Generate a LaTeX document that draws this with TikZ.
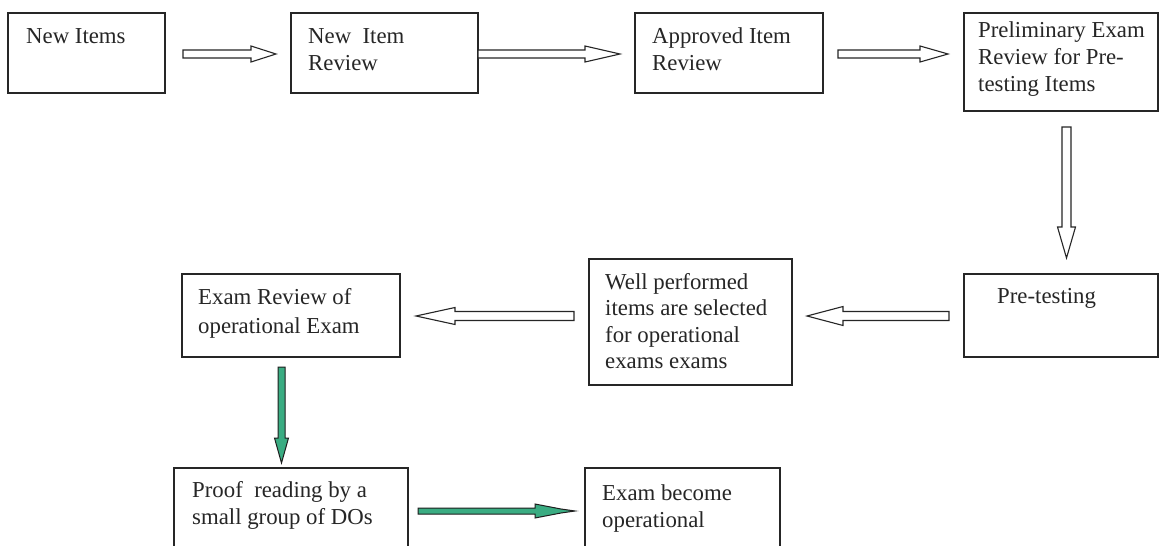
\documentclass[tikz,border=0pt]{standalone}
\usepackage{fontspec}
\setmainfont{Liberation Serif}
\usetikzlibrary{calc}
\definecolor{ink}{RGB}{38,38,38}
\definecolor{arrowgreen}{RGB}{58,172,130}
\tikzset{
  box/.style={draw=ink, line width=1.3pt, inner sep=0pt, outer sep=0pt, fill=white},
  txt/.style={anchor=base west, inner sep=0pt, text=ink, font=\fontsize{22.8}{27.5}\selectfont},
  hollow/.style={draw=ink, line width=1.1pt, fill=white, line join=miter},
  greenfill/.style={draw=ink!80!black, line width=1.0pt, fill=arrowgreen, line join=miter}
}
\newcommand\lines[1]{\begin{tabular}[t]{@{}l@{}}#1\end{tabular}}
% box: name, x1, y1, x2, y2 (pixel coordinates, y downwards)
\newcommand\boxat[5]{\node[box, minimum width={(#4)-(#2)}, minimum height={(#5)-(#3)}] (#1) at ({((#2)+(#4))/2},{((#3)+(#5))/2}) {};}
% block arrow: style, start, end, shaft half width, head half width, head length
\newcommand\blockarrow[6]{%
  \draw[#1] let \p1=(#2), \p2=(#3), \n1={veclen(\x2-\x1,\y2-\y1)}, \n2={atan2(\y2-\y1,\x2-\x1)} in
    [shift={(\p1)}, rotate=\n2]
    (0,#4) -- (\n1-#6,#4) -- (\n1-#6,#5) -- (\n1,0) -- (\n1-#6,-#5) -- (\n1-#6,-#4) -- (0,-#4) -- cycle;}
% spiky block arrow (last green one)
\newcommand\spikearrow[6]{%
  \draw[#1] let \p1=(#2), \p2=(#3), \n1={veclen(\x2-\x1,\y2-\y1)}, \n2={atan2(\y2-\y1,\x2-\x1)} in
    [shift={(\p1)}, rotate=\n2]
    (0,#4) -- (\n1-#6,#4) -- (\n1-#6,#5) -- (\n1-14,2) -- (\n1,0) -- (\n1-14,-2) -- (\n1-#6,-#5) -- (\n1-#6,-#4) -- (0,-#4) -- cycle;}
\begin{document}
\begin{tikzpicture}[x=1pt, y=-1pt]
\useasboundingbox (0,0) rectangle (1160,546);
\fill[white] (0,0) rectangle (1160,546);
\begin{scope}
\clip (0,0) rectangle (1160,546);
% boxes
\boxat{b1}{8}{13}{165}{93}
\boxat{b2}{291}{13}{478}{93}
\boxat{b3}{635}{13}{823}{93}
\boxat{b4}{964}{13}{1158}{111}
\boxat{b5}{964}{274}{1158}{357}
\boxat{b6}{589}{259}{792}{385}
\boxat{b7}{182}{274}{400}{357}
\boxat{b8}{174}{468}{408}{570}
\boxat{b9}{585}{468}{780}{570}
% texts
\node[txt] (t1) at ($(b1.north west)+(18,30)$) {New Items};
\node[txt] (t2) at ($(b2.north west)+(17,30)$) {\lines{New\ \ Item\\Review}};
\node[txt] (t3) at ($(b3.north west)+(17,30)$) {\lines{Approved Item\\Review}};
\node[txt] (t4) at ($(b4.north west)+(14,24)$) {\lines{Preliminary Exam\\Review for Pre-\\testing Items}};
\node[txt] (t5) at ($(b5.north west)+(33,29)$) {Pre-testing};
\node[txt] (t6) at ($(b6.north west)+(16,30)$) {\fontsize{22.8}{26.5}\selectfont\lines{Well performed\\items are selected\\for operational\\exams exams}};
\node[txt] (t7) at ($(b7.north west)+(16,30)$) {\fontsize{22.8}{29}\selectfont\lines{Exam Review of\\operational Exam}};
\node[txt] (t8) at ($(b8.north west)+(18,29)$) {\lines{Proof\ \ reading by a\\small group of DOs}};
\node[txt] (t9) at ($(b9.north west)+(17,32)$) {\lines{Exam become\\operational}};
% connector end points
\coordinate (a1s) at ($(b1.east)+(18,1)$);
\coordinate (a1e) at ($(b2.west)+(-15,1)$);
\coordinate (a2s) at ($(b2.east)+(0,1)$);
\coordinate (a2e) at ($(b3.west)+(-15,1)$);
\coordinate (a3s) at ($(b3.east)+(15,1)$);
\coordinate (a3e) at ($(b4.north west)+(-16,41)$);
\coordinate (a4s) at ($(b4.south)+(5.5,16)$);
\coordinate (a4e) at ($(b5.north)+(5.5,-16)$);
\coordinate (a5s) at ($(b5.west)+(-15,0.5)$);
\coordinate (a5e) at ($(b6.east|-a5s)+(15,0)$);
\coordinate (a6s) at ($(b6.west|-a5s)+(-15,0)$);
\coordinate (a6e) at ($(b7.east|-a5s)+(16,0)$);
\coordinate (a7s) at ($(b7.south)+(-9.5,10)$);
\coordinate (a7e) at ($(b8.north)+(-9.5,-5)$);
\coordinate (a8s) at ($(b8.north east)+(10,43)$);
\coordinate (a8e) at ($(b9.north west)+(-10,43)$);
% connectors
\blockarrow{hollow}{a1s}{a1e}{4}{8}{25}
\blockarrow{hollow}{a2s}{a2e}{4}{8}{35}
\blockarrow{hollow}{a3s}{a3e}{4}{8}{28}
\blockarrow{hollow}{a4s}{a4e}{4.5}{9}{31}
\blockarrow{hollow}{a5s}{a5e}{4.5}{9.5}{36}
\blockarrow{hollow}{a6s}{a6e}{4.5}{8.5}{39}
\blockarrow{greenfill}{a7s}{a7e}{3.5}{7}{25}
\spikearrow{greenfill}{a8s}{a8e}{3}{7}{40}
\end{scope}
\end{tikzpicture}
\end{document}
